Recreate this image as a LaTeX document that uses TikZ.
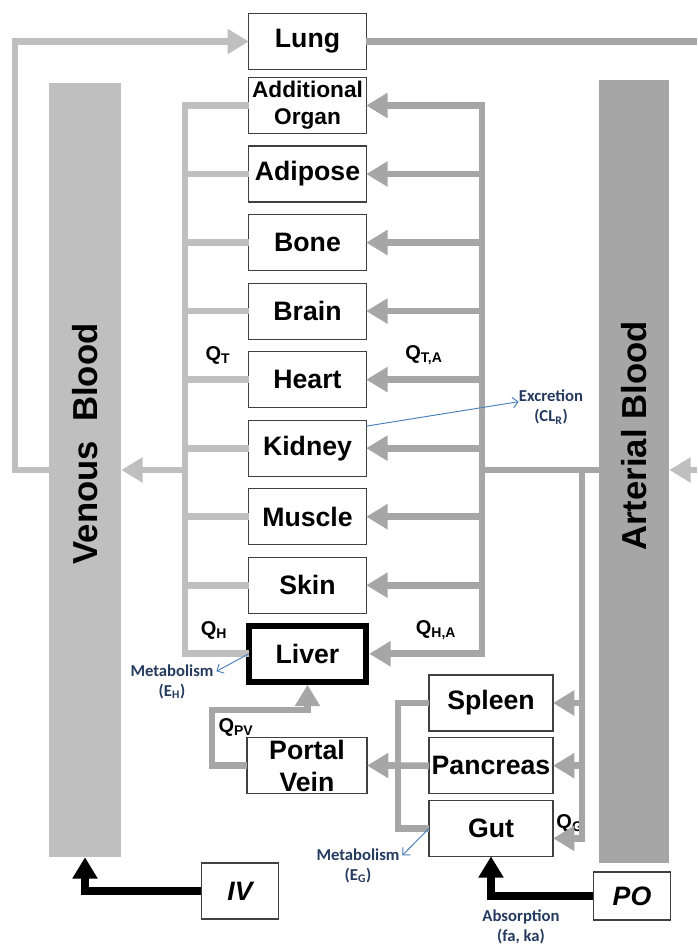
\documentclass[tikz,border=0pt]{standalone}
\usepackage{fontspec}
\setmainfont{Liberation Sans}
\newfontfamily\calfont{Carlito}
\usetikzlibrary{arrows.meta, positioning, calc}
\definecolor{pkVen}{HTML}{BFBFBF}
\definecolor{pkArt}{HTML}{A6A6A6}
\definecolor{pkBox}{HTML}{404040}
\definecolor{pkBlue}{HTML}{4A7EBB}
\definecolor{pkNavy}{HTML}{243A5E}

\begin{document}
\begin{tikzpicture}[x=0.75pt, y=-0.75pt,
  %% --- Node styles ---
  organ/.style={
    rectangle, draw=pkBox, line width=0.9pt, fill=white,
    minimum width=88pt, minimum height=42pt, inner sep=0pt, outer sep=0pt,
    align=center, font=\fontsize{20}{22}\selectfont\bfseries
  },
  gutorgan/.style={organ, minimum width=93pt},
  dose/.style={organ, minimum width=58pt,
    font=\fontsize{20}{22}\selectfont\bfseries\itshape},
  bloodbar/.style={rectangle, minimum width=54pt, inner sep=0pt},
  barlabel/.style={rotate=90, font=\fontsize{26}{28}\selectfont\bfseries},
  flow/.style={font=\fontsize{15}{17}\selectfont\bfseries, inner sep=0pt},
  note/.style={
    font=\calfont\bfseries\fontsize{12.5}{15}\selectfont,
    text=pkNavy, align=center, inner sep=0pt
  },
  %% --- Arrow styles ---
  venLine/.style={draw=pkVen, line width=5pt},
  venArrow/.style={venLine, -{Triangle[length=16pt,width=18pt]}},
  artLine/.style={draw=pkArt, line width=5pt},
  artArrow/.style={artLine, -{Triangle[length=16pt,width=18pt]}},
  doseArrow/.style={draw=black, line width=6pt, -{Triangle[length=16pt,width=18pt]}},
  blueArrow/.style={draw=pkBlue, line width=0.7pt, -{Straight Barb[length=4pt]}}
]
\useasboundingbox (0,0) rectangle (697,950);

%% =========================================================
%% BLOOD POOLS
%% =========================================================
\node[bloodbar, fill=pkVen, minimum height=580.5pt] (venous) at (85,470) {};
\node[barlabel] (venLbl) at (85,444) {Venous\ \ Blood};
\node[bloodbar, fill=pkArt, minimum width=52.5pt, minimum height=587pt] (arterial) at (634,471.5) {};
\node[barlabel] (artLbl) at (634,436) {Arterial Blood};

%% =========================================================
%% ORGANS — main column
%% =========================================================
\node[organ] (lung) at (307.5,41.5) {Lung};
\node[organ, font=\fontsize{17}{20}\selectfont\bfseries] (addl) at (307.5,105.5) {Additional\\Organ};
\node[organ, below=9.4pt of addl]   (adip)   {Adipose};
\node[organ, below=9.4pt of adip]   (bone)   {Bone};
\node[organ, below=9.4pt of bone]   (brain)  {Brain};
\node[organ, below=9.4pt of brain]  (heart)  {Heart};
\node[organ, below=9.4pt of heart]  (kidney) {Kidney};
\node[organ, below=9.4pt of kidney] (muscle) {Muscle};
\node[organ, below=9.4pt of muscle] (skin)   {Skin};
\node[organ, below=9.4pt of skin, draw=black, line width=4.5pt] (liver) {Liver};

%% =========================================================
%% SPLANCHNIC ORGANS
%% =========================================================
\node[organ, minimum width=90pt, font=\fontsize{20}{24}\selectfont\bfseries] (portal) at (307,765.5) {Portal\\Vein};
\node[gutorgan] (spleen) at (491,703) {Spleen};
\node[gutorgan, below=5pt of spleen]   (pancreas) {Pancreas};
\node[gutorgan, below=5pt of pancreas] (gut)      {Gut};

%% doses
\node[dose] (iv) at (240,891) {IV};
\node[dose, minimum height=36pt] (po) at (632,896) {PO};

%% =========================================================
%% LABELS
%% =========================================================
\node[flow] (qT)  at (218,355) {Q\textsubscript{T}};
\node[flow] (qTA) at (424,355) {Q\textsubscript{T,A}};
\node[flow] (qH)  at (214,630) {Q\textsubscript{H}};
\node[flow] (qHA) at (436,630) {Q\textsubscript{H,A}};
\node[flow] (qPV) at (236,727) {Q\textsubscript{PV}};
\node[flow] (qG)  at (570,823) {Q\textsubscript{G}};

\node[note] (excr)   at (551,407) {Excretion\\(CL\textsubscript{R})};
\node[note] (metH)   at (172,682) {Metabolism\\(E\textsubscript{H})};
\node[note] (metG)   at (358,866) {Metabolism\\(E\textsubscript{G})};
\node[note] (absorb) at (521,927) {Absorption\\(fa, ka)};

%% junctions
\coordinate (colX)   at (185,470);
\coordinate (distX)  at (482,470);
\coordinate (artJ)   at (582,470);
\coordinate (loopX)  at (15,470);
\coordinate (edgeR)  at (697,470);
\coordinate (pgX)    at (398,766);
\coordinate (pvBend) at (212,710);
\coordinate (gutIn)  at ([yshift=-7.5pt]gut.east);

%% =========================================================
%% VENOUS RETURN
%% =========================================================
\draw[venLine] (addl.west) -| (colX |- liver.west) -- (liver.west);
\foreach \org in {adip,bone,brain,heart,kidney,muscle,skin}
  \draw[venLine] (\org.west) -- (colX |- \org.west);
\draw[venArrow] (colX) -- (venous.east |- colX);

%% venous -> lung, lung -> arterial
\draw[venArrow] (venous.west |- colX) -- (loopX) |- (lung.west);
\draw[artLine] (lung.east) -- (edgeR |- lung.east);
\draw[venArrow] (edgeR) -- (arterial.east |- edgeR);

%% =========================================================
%% ARTERIAL SUPPLY
%% =========================================================
\draw[artLine] (arterial.west |- artJ) -- (distX);
\draw[artLine, line cap=rect] (distX |- addl.east) -- (distX |- liver.east);
\foreach \org in {addl,adip,bone,brain,heart,kidney,muscle,skin}
  \draw[artArrow] (distX |- \org.east) -- (\org.east);
\draw[artArrow, shorten >=2.25pt] (distX |- liver.east) -- (liver.east);

\draw[artArrow] (artJ) |- (gutIn);
\draw[artArrow] (artJ |- spleen.east)   -- (spleen.east);
\draw[artArrow] (artJ |- pancreas.east) -- (pancreas.east);

%% splanchnic -> portal vein -> liver
\draw[artLine] (spleen.west) -| (pgX |- gut.west) -- (gut.west);
\draw[artArrow] (pancreas.west) -- (portal.east);
\draw[artArrow, shorten >=2.25pt] (portal.west) -| (pvBend) -| (liver.south);

%% =========================================================
%% DOSING AND ELIMINATION
%% =========================================================
\draw[doseArrow] (iv.west) -| (venous.south);
\draw[doseArrow] (po.west) -| (gut.south);

\draw[blueArrow] ([yshift=-4.5pt]kidney.north east) -- ([yshift=4pt]excr.west);
\draw[blueArrow] (liver.west) -- ([xshift=2pt,yshift=-5pt]metH.north east);
\draw[blueArrow] (gut.west) -- ([xshift=2pt,yshift=-5pt]metG.north east);

\end{tikzpicture}
\end{document}
